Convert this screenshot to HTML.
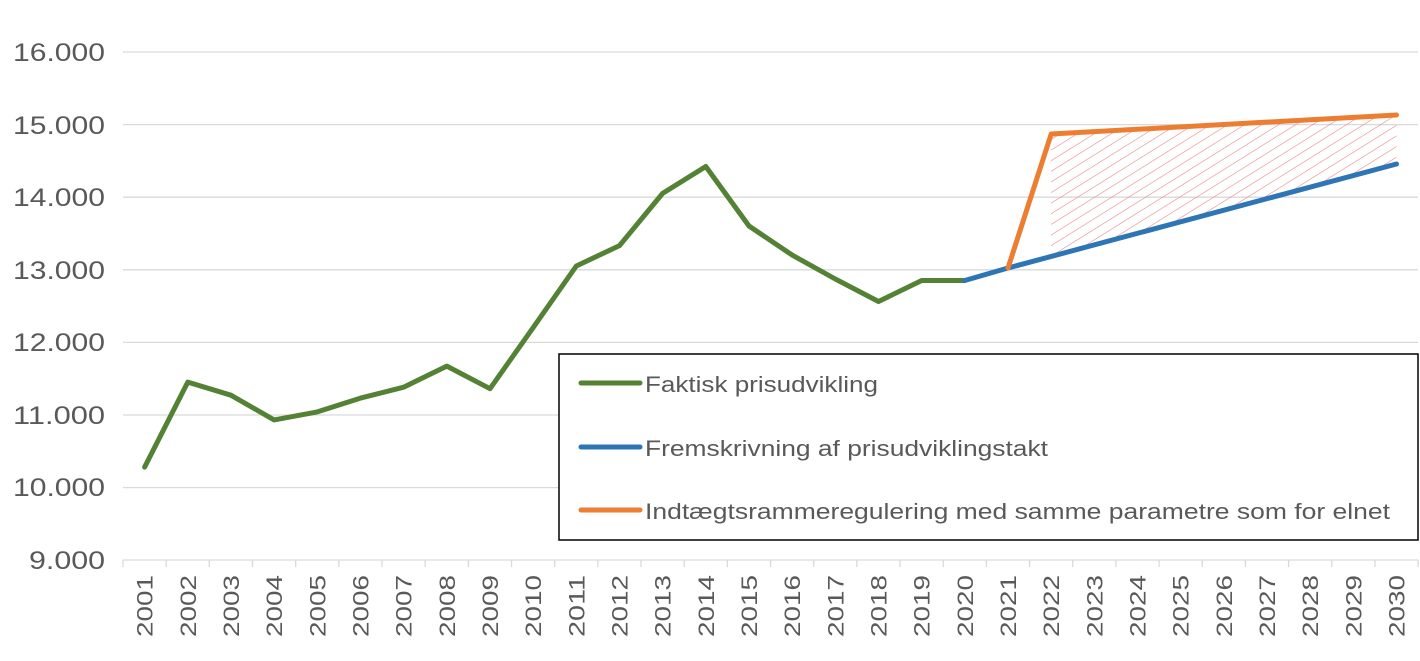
<!DOCTYPE html>
<html><head><meta charset="utf-8"><style>
html,body{margin:0;padding:0;background:#fff;}
svg text{font-family:"Liberation Sans",sans-serif;fill:#595959;}
</style></head><body>
<svg width="1420" height="656" viewBox="0 0 1420 656" xmlns="http://www.w3.org/2000/svg">
<defs>
<pattern id="h" patternUnits="userSpaceOnUse" width="9" height="9" patternTransform="rotate(58)">
<line x1="0" y1="0" x2="0" y2="9" stroke="#e58a8a" stroke-width="1.2"/>
</pattern>
</defs>
<g stroke="#d9d9d9" stroke-width="1.3">
<line x1="123" y1="52" x2="1418" y2="52"/>
<line x1="123" y1="124.6" x2="1418" y2="124.6"/>
<line x1="123" y1="197.2" x2="1418" y2="197.2"/>
<line x1="123" y1="269.8" x2="1418" y2="269.8"/>
<line x1="123" y1="342.4" x2="1418" y2="342.4"/>
<line x1="123" y1="415" x2="1418" y2="415"/>
<line x1="123" y1="487.6" x2="1418" y2="487.6"/>
<line x1="123" y1="560" x2="1418" y2="560"/>
</g>
<g stroke="#d9d9d9" stroke-width="1.3" id="ticks"></g>
<g font-size="25" text-anchor="end">
<text x="105" y="61" textLength="92" lengthAdjust="spacingAndGlyphs">16.000</text>
<text x="105" y="134" textLength="92" lengthAdjust="spacingAndGlyphs">15.000</text>
<text x="105" y="206" textLength="92" lengthAdjust="spacingAndGlyphs">14.000</text>
<text x="105" y="279" textLength="92" lengthAdjust="spacingAndGlyphs">13.000</text>
<text x="105" y="351" textLength="92" lengthAdjust="spacingAndGlyphs">12.000</text>
<text x="105" y="424" textLength="92" lengthAdjust="spacingAndGlyphs">11.000</text>
<text x="105" y="496" textLength="92" lengthAdjust="spacingAndGlyphs">10.000</text>
<text x="105" y="569" textLength="76" lengthAdjust="spacingAndGlyphs">9.000</text>
</g>
<polygon points="1051,134 1396.5,115 1396.5,164 1051,256.4" fill="url(#h)"/>
<polyline fill="none" stroke="#548235" stroke-width="5" stroke-linejoin="round" stroke-linecap="round" points="144.6,467.1 187.8,382.1 230.9,395.2 274.1,419.9 317.3,411.9 360.5,398.1 403.6,387.2 446.8,366.1 490,388.7 533.1,327.7 576.3,266 619.5,245.6 662.6,193.4 705.8,166.5 749,226 792.2,255.1 835.3,279 878.5,301.5 921.7,280.5 964.8,280.5"/>
<polyline fill="none" stroke="#2e75b6" stroke-width="5" stroke-linejoin="round" stroke-linecap="round" points="964.8,280.5 1008,268 1396.5,164"/>
<polyline fill="none" stroke="#ed7d31" stroke-width="5" stroke-linejoin="round" stroke-linecap="round" points="1008,268 1051.2,134 1396.5,115"/>
<rect x="559" y="354" width="859" height="186" fill="#fff" stroke="#000" stroke-width="1.5"/>
<g stroke-width="5" stroke-linecap="round">
<line x1="581" y1="383" x2="640" y2="383" stroke="#548235"/>
<line x1="581" y1="447" x2="640" y2="447" stroke="#2e75b6"/>
<line x1="581" y1="510" x2="640" y2="510" stroke="#ed7d31"/>
</g>
<g font-size="22.5">
<text x="645" y="392" textLength="233" lengthAdjust="spacingAndGlyphs">Faktisk prisudvikling</text>
<text x="645" y="456" textLength="403" lengthAdjust="spacingAndGlyphs">Fremskrivning af prisudviklingstakt</text>
<text x="645" y="519" textLength="745" lengthAdjust="spacingAndGlyphs">Indtægtsrammeregulering med samme parametre som for elnet</text>
</g>
<g id="xlabels" font-size="22" text-anchor="end">
</g>
<script>
var g=document.getElementById('xlabels'),t=document.getElementById('ticks');
for(var i=0;i<30;i++){
var x=144.6+43.17*i;
var e=document.createElementNS('http://www.w3.org/2000/svg','text');
e.setAttribute('transform','translate('+(x+8)+',575) rotate(-90)');
e.setAttribute('x','0');e.setAttribute('y','0');
e.setAttribute('textLength','62');e.setAttribute('lengthAdjust','spacingAndGlyphs');
e.textContent=2001+i;g.appendChild(e);
}
for(var k=0;k<=30;k++){
var tx=123+43.17*k;
var l=document.createElementNS('http://www.w3.org/2000/svg','line');
l.setAttribute('x1',tx);l.setAttribute('x2',tx);l.setAttribute('y1',560);l.setAttribute('y2',567);
t.appendChild(l);
}
</script>
</svg>
</body></html>
